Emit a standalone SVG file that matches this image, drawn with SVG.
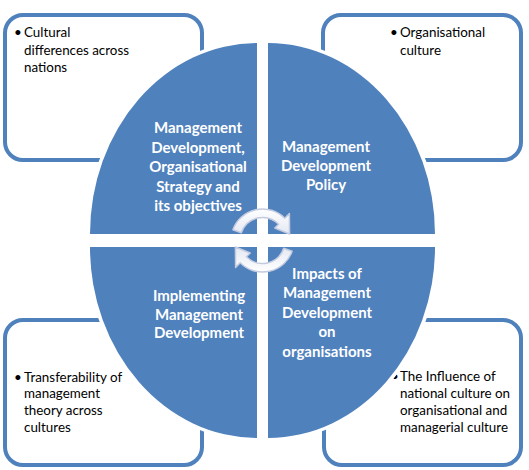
<svg xmlns="http://www.w3.org/2000/svg" width="529" height="470" viewBox="0 0 529 470">
<defs>
<style>
.box{fill:#ffffff;stroke:#4f81bd;stroke-width:4}
.quad{fill:#4f81bd}
.halo{fill:#ffffff;stroke:#ffffff;stroke-width:7;stroke-linejoin:round}
.qt{font-family:Lato,"Liberation Sans",sans-serif;font-weight:bold;font-size:15px;fill:#ffffff;text-anchor:middle}
.bt{font-family:Lato,"Liberation Sans",sans-serif;font-size:13.4px;fill:#000000}
.arr{fill:url(#ag);stroke:#c3cbe0;stroke-width:1.5;stroke-linejoin:round}
</style>
<linearGradient id="ag" x1="0" y1="0" x2="0" y2="1">
<stop offset="0" stop-color="#ffffff"/>
<stop offset="1" stop-color="#e4e8f2"/>
</linearGradient>
<path id="arc" d="M232.9,229.7 A31.5,31.5 0 0 1 284.8,218.2 L289.4,213.6 L289.6,234.0 L274.8,228.0 L278.6,224.2 A22.5,22.5 0 0 0 241.3,232.8 Z"/>
</defs>
<g id="box-tl"><rect class="box" x="5" y="15" width="197" height="145" rx="18"/>
<text class="bt" x="14" y="37">•</text>
<text class="bt"><tspan x="24" y="37">Cultural</tspan><tspan x="24" y="55">differences across</tspan><tspan x="24" y="72">nations</tspan></text></g>
<g id="box-tr"><rect class="box" x="323" y="15" width="198" height="145" rx="18"/>
<text class="bt" x="390" y="37">•</text>
<text class="bt"><tspan x="400" y="37">Organisational</tspan><tspan x="400" y="55">culture</tspan></text></g>
<g id="box-bl"><rect class="box" x="5" y="320" width="197" height="145" rx="18"/>
<text class="bt" x="14" y="382">•</text>
<text class="bt"><tspan x="24" y="382">Transferability of</tspan><tspan x="24" y="398">management</tspan><tspan x="24" y="415">theory across</tspan><tspan x="24" y="432">cultures</tspan></text></g>
<g id="box-br"><rect class="box" x="324" y="320" width="197" height="145" rx="18"/>
<text class="bt" x="391" y="381">•</text>
<text class="bt"><tspan x="400" y="381">The Influence of</tspan><tspan x="400" y="398">national culture on</tspan><tspan x="400" y="415">organisational and</tspan><tspan x="400" y="432">managerial culture</tspan></text></g>
<g id="quad-tl"><path class="halo" d="M257,234 L90,234 A167,191 0 0 1 257,43 Z"/><path class="quad" d="M257,234 L90,234 A167,191 0 0 1 257,43 Z"/>
<text class="qt"><tspan x="198" y="133">Management</tspan><tspan x="198" y="153">Development,</tspan><tspan x="198" y="172">Organisational</tspan><tspan x="198" y="192">Strategy and</tspan><tspan x="198" y="211">its objectives</tspan></text></g>
<g id="quad-tr"><path class="halo" d="M268,234 L268,43 A167,191 0 0 1 435,234 Z"/><path class="quad" d="M268,234 L268,43 A167,191 0 0 1 435,234 Z"/>
<text class="qt"><tspan x="326" y="152">Management</tspan><tspan x="326" y="171">Development</tspan><tspan x="326" y="190">Policy</tspan></text></g>
<g id="quad-bl"><path class="halo" d="M257,247 L257,438 A167,191 0 0 1 90,247 Z"/><path class="quad" d="M257,247 L257,438 A167,191 0 0 1 90,247 Z"/>
<text class="qt"><tspan x="199" y="301">Implementing</tspan><tspan x="199" y="320">Management</tspan><tspan x="199" y="338">Development</tspan></text></g>
<g id="quad-br"><path class="halo" d="M268,247 L435,247 A167,191 0 0 1 268,438 Z"/><path class="quad" d="M268,247 L435,247 A167,191 0 0 1 268,438 Z"/>
<text class="qt"><tspan x="327" y="279">Impacts of</tspan><tspan x="327" y="298">Management</tspan><tspan x="327" y="318">Development</tspan><tspan x="327" y="337">on</tspan><tspan x="327" y="357">organisations</tspan></text></g>
<g id="connectors">
<use href="#arc" class="arr"/>
<use href="#arc" class="arr" transform="rotate(180 262.5 240.5)"/>
</g>
</svg>
